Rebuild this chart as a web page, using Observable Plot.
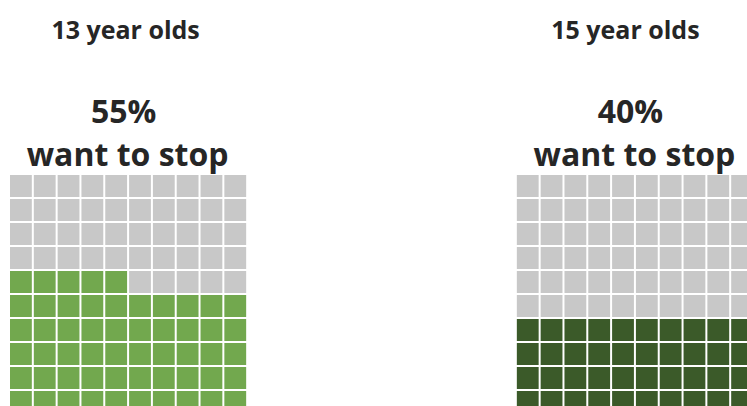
<!DOCTYPE html>
<html><head><meta charset="utf-8">
<script src="https://cdn.jsdelivr.net/npm/d3@7"></script>
<script src="https://cdn.jsdelivr.net/npm/@observablehq/plot@0.6"></script>
<style>html,body{margin:0;padding:0;background:#fff;overflow:hidden;width:747px;height:406px}
#chart{width:747px;height:406px;overflow:hidden;position:relative}</style>
</head><body><div id="chart"></div>
<script>
const groups = ["13 year olds", "15 year olds"];
const percents = [55, 40];
const statuses = ["13 year olds", "15 year olds", "rest"];
const colors = ["#72a84e", "#3b5a29", "#c8c8c8"];
const subtitle = "want to stop";

const cells = [];
groups.forEach((g, k) => {
  for (let i = 0; i < 100; i++) {
    cells.push({group: g, col: i % 10, row: 9 - Math.floor(i / 10), status: i < percents[k] ? g : "rest"});
  }
});
const labels = groups.map((g, k) => ({group: g, pct: percents[k] + "%", sub: subtitle}));
const titleStyle = {fx: "group", text: "group", frameAnchor: "top", lineAnchor: "bottom", dy: -136, fontSize: 25, fontWeight: 700, fill: "#262626"};

const chart = Plot.plot({
  width: 754, height: 414,
  marginLeft: 9, marginRight: 0, marginTop: 174, marginBottom: 0,
  fx: {domain: groups, axis: null, paddingInner: 0.5301, paddingOuter: 0, round: false},
  x: {type: "band", domain: d3.range(10), axis: null, padding: 0, round: false},
  y: {type: "band", domain: d3.range(10), axis: null, padding: 0, round: false},
  color: {domain: statuses, range: colors},
  style: {fontFamily: "'Open Sans', sans-serif", background: "#fff", position: "absolute", left: "0px", top: "0px", maxWidth: "none"},
  marks: [
    Plot.cell(cells, {fx: "group", x: "col", y: "row", fill: "status", inset: 1}),
    Plot.text(labels.filter(d => d.group === groups[0]), {...titleStyle, dx: -3}),
    Plot.text(labels.filter(d => d.group === groups[1]), {...titleStyle, dx: -10}),
    Plot.text(labels, {fx: "group", text: "pct", frameAnchor: "top", lineAnchor: "bottom", dy: -52, dx: -5, fontSize: 32, fontWeight: 700, fill: "#262626"}),
    Plot.text(labels, {fx: "group", text: "sub", frameAnchor: "top", lineAnchor: "bottom", dy: -9, dx: -1, fontSize: 32, fontWeight: 700, fill: "#262626"})
  ]
});
document.getElementById("chart").appendChild(chart);
</script>
</body></html>
